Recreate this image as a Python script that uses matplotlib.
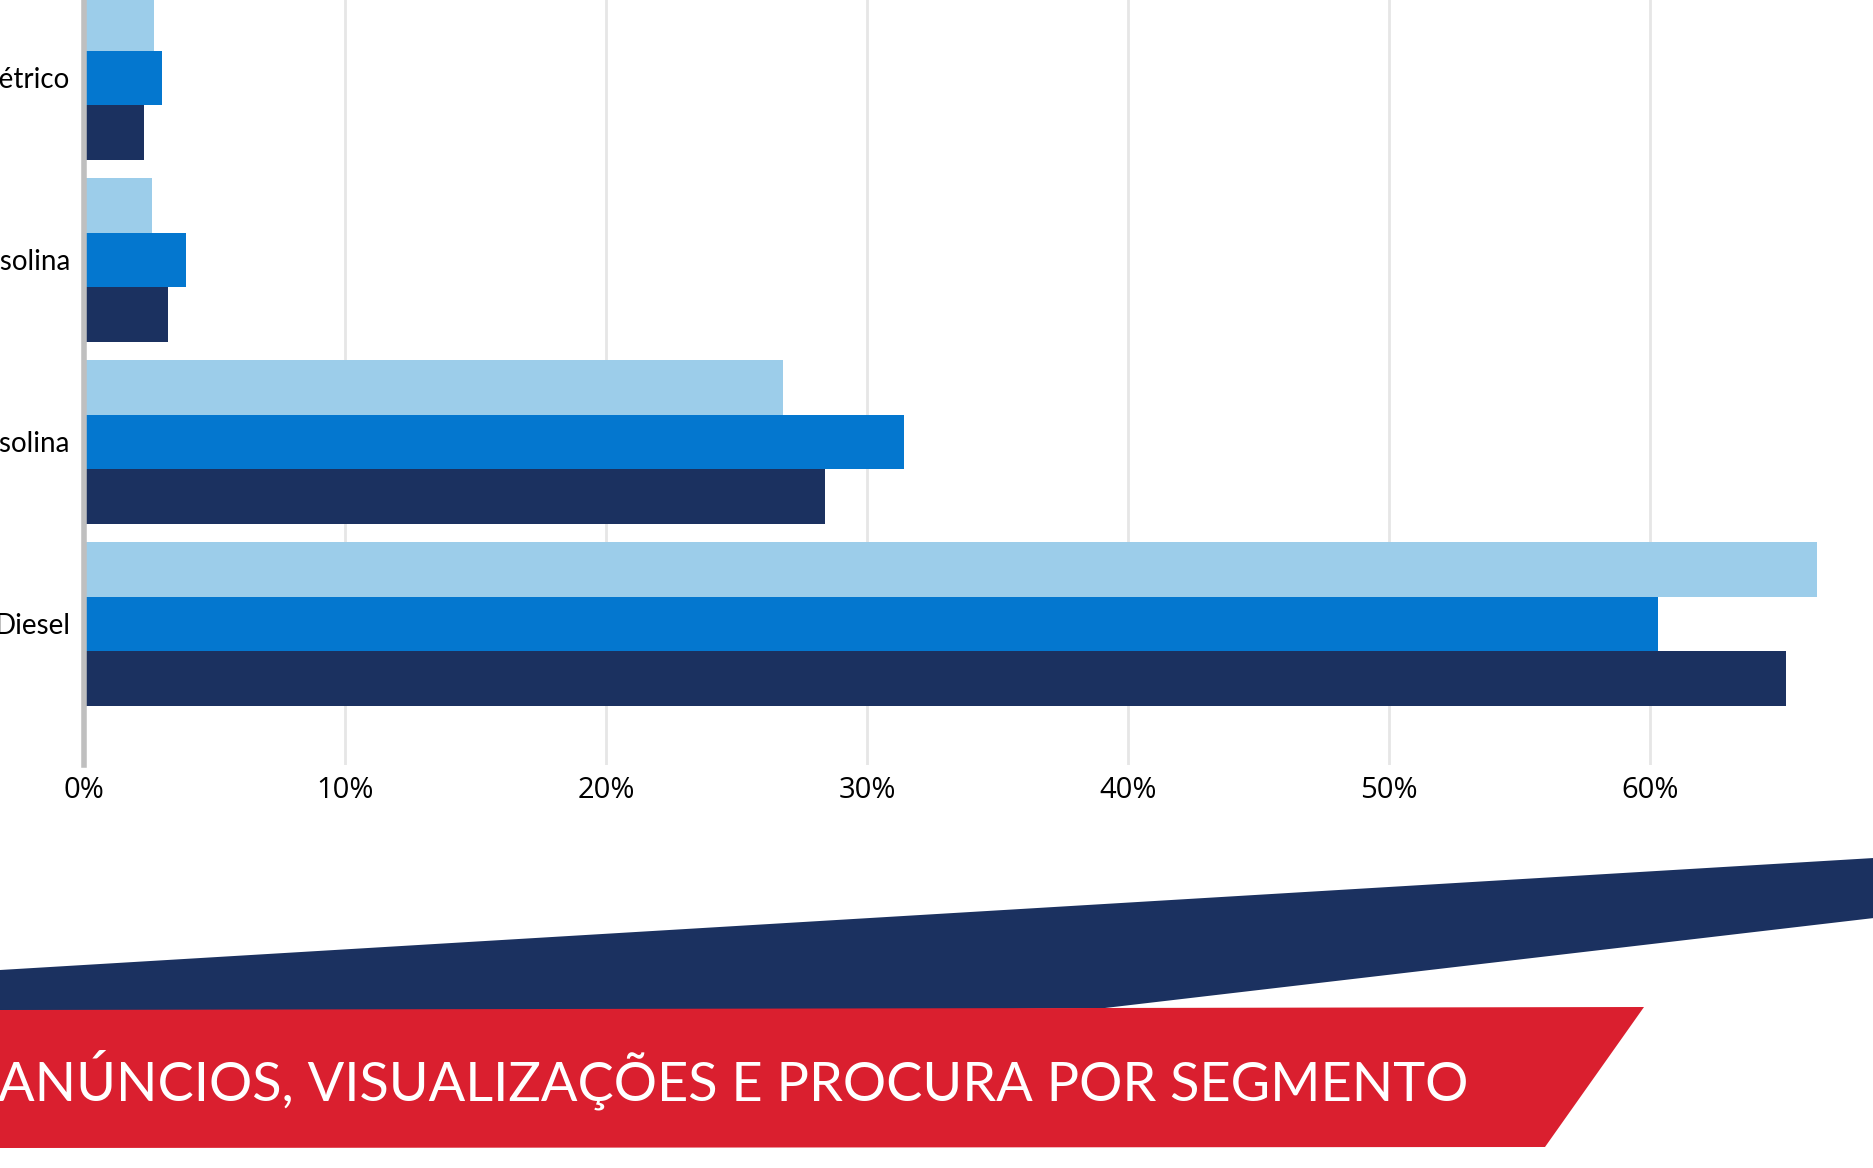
import numpy as np
import matplotlib.pyplot as plt
from matplotlib.patches import Polygon

# categories from bottom to top
categories = ['Diesel', 'Gasolina', 'Híbrido Gasolina', 'Elétrico']
# three series (top bar, middle bar, bottom bar of each group)
serie_claro = [66.4, 26.8, 2.6, 2.7]
serie_medio = [60.3, 31.4, 3.9, 3.0]
serie_escuro = [65.2, 28.4, 3.2, 2.3]
xticks = [0, 10, 20, 30, 40, 50, 60]
xtick_labels = ['0%', '10%', '20%', '30%', '40%', '50%', '60%']
titulo = 'ANÚNCIOS, VISUALIZAÇÕES E PROCURA POR SEGMENTO'

c_claro = '#9ccdea'
c_medio = '#0477cf'
c_escuro = '#1b3160'
c_red = '#da1f2f'

W, H = 1874, 1168
fig = plt.figure(figsize=(W / 100, H / 100), dpi=100)

# decorative bands (figure pixel coords)
bg = fig.add_axes([0, 0, 1, 1])
bg.set_xlim(0, W)
bg.set_ylim(H, 0)
bg.axis('off')
navy_band = [(0, 970), (1874, 858), (1874, 918), (1105, 1008), (0, 1020)]
red_band = [(0, 1010), (1644, 1007), (1545, 1147), (0, 1148)]
bg.add_patch(Polygon(navy_band, closed=True, color=c_escuro, lw=0))
bg.add_patch(Polygon(red_band, closed=True, color=c_red, lw=0))
bg.text(-2, 1100, titulo, color='white', fontsize=39, family='Lato',
        va='baseline', ha='left')

# bar chart axes
x0, x1 = 84, W
y_top, y_bot = 0, 765
ax = fig.add_axes([x0 / W, 1 - y_bot / H, (x1 - x0) / W, (y_bot - y_top) / H])
px_per_unit = 26.1
ax.set_xlim(0, (x1 - x0) / px_per_unit)
pitch = 182.0
ax.set_ylim(-(y_bot - 624) / pitch, 624 / pitch)

y = np.arange(len(categories))
h = 0.3
ax.barh(y + h, serie_claro, height=h, color=c_claro, zorder=3)
ax.barh(y, serie_medio, height=h, color=c_medio, zorder=3)
ax.barh(y - h, serie_escuro, height=h, color=c_escuro, zorder=3)

ax.set_yticks(y)
ax.set_yticklabels(categories, family='Lato', fontsize=20)
ax.set_xticks(xticks)
ax.set_xticklabels(xtick_labels, family='Open Sans', fontsize=21)
ax.tick_params(axis='both', length=0)
ax.tick_params(axis='y', pad=10)
ax.tick_params(axis='x', pad=8)
ax.grid(axis='x', color='#e6e6e6', lw=2, zorder=0)
for s in ['top', 'right', 'bottom']:
    ax.spines[s].set_visible(False)
ax.spines['left'].set_color('#bfbfbf')
ax.spines['left'].set_linewidth(4)
ax.spines['left'].set_zorder(4)
ax.set_facecolor('none')

fig.savefig('out.png', dpi=100)
